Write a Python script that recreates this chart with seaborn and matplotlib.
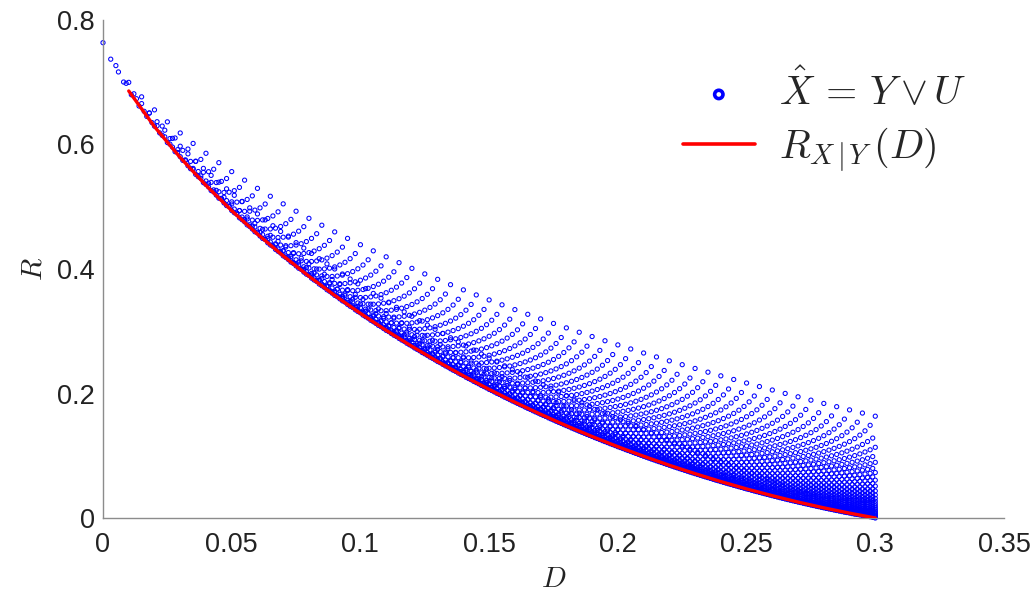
import numpy as np
import pandas as pd
import matplotlib
matplotlib.use("Agg")
import matplotlib.pyplot as plt
import seaborn as sns

# ---- source / test-channel parameters ----
p_y0 = 0.8            # P(Y=0)
q_x1_y0 = 0.375       # P(X=1 | Y=0)
p_x0 = 0.5            # P(X=0)
D_max = 0.30          # largest distortion shown
# sweep of the test channel U|X (step 0.01)
a_values = np.round(np.arange(0, 61) / 100, 2)    # P(U=1 | X=0)
b_values = np.round(np.arange(0, 101) / 100, 2)   # P(U=0 | X=1)

# ---- red curve R_{X|Y}(D) ----
rd_D = [0.01, 0.02, 0.03, 0.04, 0.05, 0.06, 0.07, 0.08, 0.09, 0.10,
        0.11, 0.12, 0.13, 0.14, 0.15, 0.16, 0.17, 0.18, 0.19, 0.20,
        0.21, 0.22, 0.23, 0.24, 0.25, 0.26, 0.27, 0.28, 0.29, 0.30]
rd_R = [0.6860, 0.6286, 0.5790, 0.5344, 0.4937, 0.4561, 0.4211, 0.3884,
        0.3576, 0.3287, 0.3014, 0.2757, 0.2513, 0.2283, 0.2066, 0.1860,
        0.1666, 0.1482, 0.1309, 0.1145, 0.0992, 0.0847, 0.0712, 0.0585,
        0.0467, 0.0358, 0.0256, 0.0163, 0.0078, 0.0000]

xticks = [0, 0.05, 0.1, 0.15, 0.2, 0.25, 0.3, 0.35]
xtick_labels = ["0", "0.05", "0.1", "0.15", "0.2", "0.25", "0.3", "0.35"]
yticks = [0, 0.2, 0.4, 0.6, 0.8]
ytick_labels = ["0", "0.2", "0.4", "0.6", "0.8"]


def h2(p):
    p = np.clip(p, 1e-15, 1 - 1e-15)
    return -p * np.log2(p) - (1 - p) * np.log2(1 - p)


A, B = np.meshgrid(a_values, b_values, indexing="ij")
pu1 = (1 - q_x1_y0) * A + q_x1_y0 * (1 - B)
I_cond = h2(pu1) - ((1 - q_x1_y0) * h2(A) + q_x1_y0 * h2(B))
R_pts = p_y0 * I_cond
D_pts = p_x0 * A + p_y0 * q_x1_y0 * B
mask = D_pts <= D_max + 1e-9
scatter_df = pd.DataFrame({"D": D_pts[mask], "R": R_pts[mask]})
curve_df = pd.DataFrame({"D": rd_D, "R": rd_R})

sns.set_theme(style="white")
plt.rcParams["font.family"] = ["Liberation Sans", "DejaVu Sans"]
plt.rcParams["mathtext.fontset"] = "cm"

fig = plt.figure(figsize=(10.36, 5.92), dpi=100)
ax = fig.add_axes([103 / 1036, 1 - 518 / 592, 901 / 1036, 498 / 592])

sns.scatterplot(data=scatter_df, x="D", y="R", ax=ax, marker="o",
                facecolors="none", edgecolor="#0000ff", linewidth=0.75,
                s=9, label=r"$\hat{X}\,=\,Y\vee U$", zorder=2,
                clip_on=False)
sns.lineplot(data=curve_df, x="D", y="R", ax=ax, color="#ff0000",
             linewidth=2.4, label=r"$R_{X\,|\,Y}\,(D)$", zorder=3)

ax.set_xlim(0, 0.35)
ax.set_ylim(0, 0.8)
ax.set_xticks(xticks)
ax.set_xticklabels(xtick_labels)
ax.set_yticks(yticks)
ax.set_yticklabels(ytick_labels)
for s in ["top", "right"]:
    ax.spines[s].set_visible(False)
for s in ["left", "bottom"]:
    ax.spines[s].set_color("#8c8c8c")
    ax.spines[s].set_linewidth(1.0)
ax.tick_params(axis="both", direction="in", length=6, width=1.0,
               color="#8c8c8c", labelsize=19.5, labelcolor="#222222")
ax.tick_params(axis="x", pad=10)
ax.tick_params(axis="y", pad=6)
ax.set_xlabel(r"$D$", fontsize=21, color="#222222")
ax.set_ylabel(r"$R$", fontsize=21, color="#222222")
ax.xaxis.set_label_coords(0.5, -0.095)
ax.yaxis.set_label_coords(-0.062, 0.5)

leg = ax.legend(loc="upper left", bbox_to_anchor=(0.603, 0.975),
                frameon=False, fontsize=29, handlelength=1.8,
                handletextpad=0.6, labelspacing=0.3, markerscale=2.0)
for hnd in leg.legend_handles:
    try:
        hnd.set_linewidth(2.6)
    except Exception:
        pass

fig.savefig("out.png", dpi=100, facecolor="white")
